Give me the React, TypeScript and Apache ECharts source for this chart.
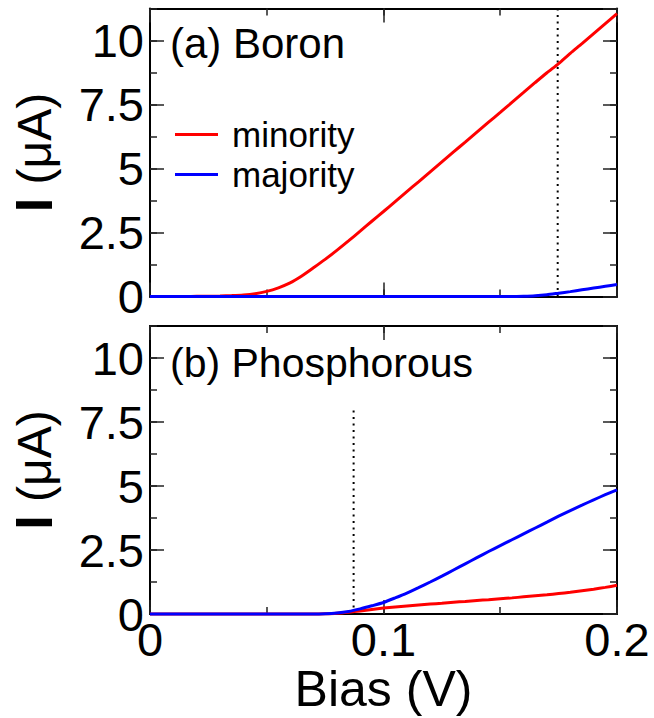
import React, { useEffect, useRef } from "react";
import * as echarts from "echarts";

const bias = [
  0, 0.005, 0.01, 0.015, 0.02, 0.025, 0.03, 0.035, 0.04, 0.045, 0.05, 0.055, 0.06, 0.065, 0.07,
  0.075, 0.08, 0.085, 0.09, 0.095, 0.1, 0.105, 0.11, 0.115, 0.12, 0.125, 0.13, 0.135, 0.14,
  0.145, 0.15, 0.155, 0.16, 0.165, 0.17, 0.175, 0.18, 0.185, 0.19, 0.195, 0.2,
];

const boronMinority = [
  0, 0, 0, 0, 0.005, 0.01, 0.02, 0.035, 0.06, 0.11, 0.2, 0.34, 0.53, 0.8, 1.12,
  1.45, 1.8, 2.17, 2.55, 2.94, 3.32, 3.71, 4.1, 4.48, 4.87, 5.26, 5.65, 6.03, 6.42,
  6.81, 7.19, 7.58, 7.97, 8.36, 8.74, 9.1, 9.5, 9.88, 10.27, 10.66, 11.05,
];
const boronMajority = [
  0, 0, 0, 0, 0, 0, 0, 0, 0, 0, 0, 0, 0, 0, 0,
  0, 0, 0, 0, 0, 0, 0, 0, 0, 0, 0, 0, 0, 0,
  0, 0, 0, 0.01, 0.03, 0.07, 0.13, 0.19, 0.26, 0.33, 0.4, 0.47,
];
const phosMinority = [
  0, 0, 0, 0, 0, 0, 0, 0, 0, 0, 0, 0, 0, 0, 0,
  0.01, 0.03, 0.07, 0.12, 0.18, 0.23, 0.27, 0.31, 0.35, 0.39, 0.42, 0.46, 0.49, 0.53,
  0.56, 0.6, 0.63, 0.67, 0.71, 0.75, 0.8, 0.85, 0.91, 0.97, 1.04, 1.12,
];
const phosMajority = [
  0, 0, 0, 0, 0, 0, 0, 0, 0, 0, 0, 0, 0, 0, 0,
  0.01, 0.04, 0.1, 0.2, 0.32, 0.45, 0.63, 0.82, 1.03, 1.25, 1.48, 1.72, 1.96, 2.2,
  2.44, 2.67, 2.9, 3.13, 3.36, 3.59, 3.82, 4.04, 4.25, 4.46, 4.66, 4.85,
];

const boronMarker = 0.1746;
const phosMarker = 0.0872;
const phosMarkerTop = 8;

const yTickLabels = ["0", "2.5", "5", "7.5", "10"];
const xTickLabels = ["0", "0.1", "0.2"];
const panelTitles = ["(a) Boron", "(b) Phosphorous"];
const seriesNames = ["minority", "majority"];

const Y_MAX = 11.25;
const FONT = "'Liberation Sans', Arial, Helvetica, sans-serif";

const zip = (xs: number[], ys: number[]) => xs.map((x, i) => [x, ys[i]]);

export default function App() {
  const ref = useRef<HTMLDivElement>(null);

  useEffect(() => {
    document.body.style.margin = "0";
    if (!ref.current) return;
    const chart = echarts.init(ref.current, undefined, { renderer: "svg" });

    const grids = [
      { left: 148, top: 8.5, width: 469, height: 288 },
      { left: 148, top: 326, width: 469, height: 288 },
    ];

    const xAxes: any[] = [];
    const yAxes: any[] = [];
    [0, 1].forEach((g) => {
      ["bottom", "top"].forEach((pos) => {
        [true, false].forEach((major) => {
          const showLabels = g === 1 && pos === "bottom" && major;
          xAxes.push({
            type: "value",
            gridIndex: g,
            position: pos,
            min: 0,
            max: 0.2,
            interval: major ? 0.1 : 0.05,
            axisLine: { show: major, onZero: false, lineStyle: { color: "#000", width: 2 } },
            axisTick: { show: true, inside: true, length: major ? 14 : 7, lineStyle: { color: "#222", width: 1.5 } },
            axisLabel: {
              show: showLabels,
              margin: 2,
              fontSize: 47,
              color: "#000",
              fontFamily: FONT,
              formatter: (v: number) => {
                const i = Math.round(v / 0.1);
                return xTickLabels[i] ?? "";
              },
            },
            splitLine: { show: false },
            name: showLabels ? "Bias (V)" : "",
            nameLocation: "middle",
            nameGap: 46,
            nameTextStyle: { fontSize: 50, color: "#000", fontFamily: FONT },
          });
        });
      });
      ["left", "right"].forEach((pos) => {
        [true, false].forEach((major) => {
          const showLabels = pos === "left" && major;
          yAxes.push({
            type: "value",
            gridIndex: g,
            position: pos,
            min: 0,
            max: Y_MAX,
            interval: major ? 2.5 : 1.25,
            axisLine: { show: major, onZero: false, lineStyle: { color: "#000", width: 2 } },
            axisTick: { show: true, inside: true, length: major ? 14 : 7, lineStyle: { color: "#222", width: 1.5 } },
            axisLabel: {
              show: showLabels,
              margin: 6,
              fontSize: 47,
              color: "#000",
              fontFamily: FONT,
              showMaxLabel: false,
              formatter: (v: number) => {
                const i = Math.round(v / 2.5);
                if (Math.abs(v - i * 2.5) > 1e-6) return "";
                return yTickLabels[i] ?? "";
              },
            },
            splitLine: { show: false },
            name: showLabels ? "{b|I}{n| (μA)}" : "",
            nameLocation: "middle",
            nameGap: 90,
            nameTextStyle: {
              color: "#000",
              fontFamily: FONT,
              rich: {
                b: { fontSize: 52, fontWeight: "bold", color: "#000", fontFamily: FONT },
                n: { fontSize: 48, color: "#000", fontFamily: FONT },
              },
            },
          });
        });
      });
    });

    const lineSeries = (name: string, g: number, ys: number[], color: string) => ({
      type: "line",
      name,
      xAxisIndex: g * 4,
      yAxisIndex: g * 4,
      data: zip(bias, ys),
      showSymbol: false,
      symbol: "none",
      smooth: 0.2,
      clip: false,
      lineStyle: { color, width: 3 },
      itemStyle: { color },
      silent: true,
    });

    const markerSeries = (g: number, x: number, top: number) => ({
      type: "line",
      name: "marker" + g,
      xAxisIndex: g * 4,
      yAxisIndex: g * 4,
      data: [
        [x, 0],
        [x, top],
      ],
      showSymbol: false,
      symbol: "none",
      lineStyle: { color: "#000", width: 2, type: [2, 4.5] },
      silent: true,
      z: 1,
    });

    chart.setOption({
      animation: false,
      backgroundColor: "#fff",
      grid: grids,
      xAxis: xAxes,
      yAxis: yAxes,
      legend: {
        data: seriesNames,
        orient: "vertical",
        left: 170,
        top: 112,
        icon: "rect",
        itemWidth: 43,
        itemHeight: 3,
        itemGap: 5,
        selectedMode: false,
        textStyle: { fontSize: 35, color: "#000", fontFamily: FONT, padding: [0, 0, 0, 9] },
      },
      graphic: [
        {
          type: "text",
          left: 170,
          top: 22,
          style: {
            text: panelTitles[0],
            font: `42px ${FONT}`,
            fill: "#000",
          },
        },
        {
          type: "text",
          left: 170,
          top: 342,
          style: {
            text: panelTitles[1],
            font: `41px ${FONT}`,
            fill: "#000",
          },
        },
      ],
      series: [
        markerSeries(0, boronMarker, Y_MAX),
        lineSeries(seriesNames[0], 0, boronMinority, "#ff0000"),
        lineSeries(seriesNames[1], 0, boronMajority, "#0000ff"),
        markerSeries(1, phosMarker, phosMarkerTop),
        lineSeries(seriesNames[0], 1, phosMinority, "#ff0000"),
        lineSeries(seriesNames[1], 1, phosMajority, "#0000ff"),
      ],
    });

    return () => chart.dispose();
  }, []);

  return <div ref={ref} style={{ width: 654, height: 718 }} />;
}
